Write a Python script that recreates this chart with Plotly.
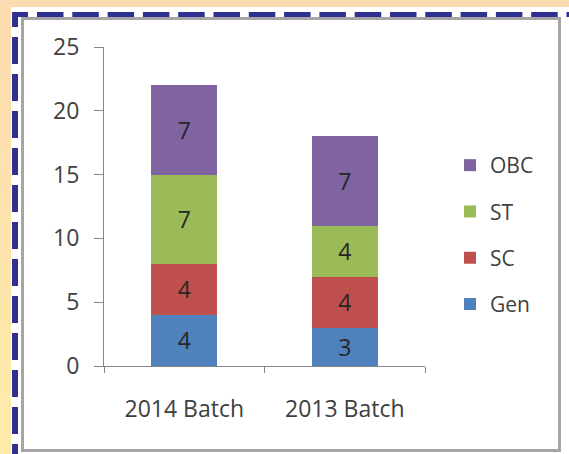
import plotly.graph_objects as go

categories = ["2014 Batch", "2013 Batch"]
series_names = ["Gen", "SC", "ST", "OBC"]
gen = [4, 3]
sc = [4, 4]
st = [7, 4]
obc = [7, 7]
y_ticks = [0, 5, 10, 15, 20, 25]

colors = {"Gen": "#4F81BD", "SC": "#C0504D", "ST": "#9BBB59", "OBC": "#8064A2"}
values = {"Gen": gen, "SC": sc, "ST": st, "OBC": obc}
legend_rank = {"OBC": 1, "ST": 2, "SC": 3, "Gen": 4}

W, H = 569, 454
L, R, T, B = 104, 144, 47, 88
PW, PH = W - L - R, H - T - B

def px(x):
    return (x - L) / PW

def py(y):
    return (H - B - y) / PH

FONT = "Open Sans"
TXT = "#404040"

fig = go.Figure()
for name in series_names:
    fig.add_trace(go.Bar(
        x=categories, y=values[name], name=name,
        marker=dict(color=colors[name], line=dict(width=0)),
        text=values[name], texttemplate="%{text}",
        textposition="inside", insidetextanchor="middle",
        textfont=dict(family=FONT, size=23, color="#262626"),
        legendgroup=name, legendrank=legend_rank[name], cliponaxis=False,
    ))

shapes = []
# beige background strips (left gradient + top)
top_c = (253, 219, 176)
bot_c = (254, 235, 169)
n = 24
for i in range(n):
    t = i / (n - 1)
    c = tuple(round(top_c[k] + (bot_c[k] - top_c[k]) * t) for k in range(3))
    y0 = i * H / n
    y1 = (i + 1) * H / n + 0.5
    shapes.append(dict(type="rect", xref="paper", yref="paper",
                       x0=px(0), x1=px(11), y0=py(y0), y1=py(y1),
                       fillcolor="rgb(%d,%d,%d)" % c, line=dict(width=0), layer="below"))
shapes.append(dict(type="rect", xref="paper", yref="paper",
                   x0=px(0), x1=px(W + 5), y0=py(0), y1=py(7),
                   fillcolor="rgb(253,219,176)", line=dict(width=0), layer="below"))
# dashed blue border (top and left)
shapes.append(dict(type="line", xref="paper", yref="paper",
                   x0=px(12), x1=px(W + 40), y0=py(14.5), y1=py(14.5),
                   line=dict(color="#2E3192", width=5,
                             dash="16px,9px," + ",".join(["26.5px,8.8px"] * 18)),
                   layer="below"))
shapes.append(dict(type="line", xref="paper", yref="paper",
                   x0=px(15), x1=px(15), y0=py(12), y1=py(H + 40),
                   line=dict(color="#2E3192", width=6,
                             dash="15px,10px," + ",".join(["27px,10px"] * 14)),
                   layer="below"))
# gray chart frame
shapes.append(dict(type="rect", xref="paper", yref="paper",
                   x0=px(22.5), x1=px(559.5), y0=py(18.5), y1=py(450.5),
                   line=dict(color="#A5A5A5", width=3), fillcolor="rgba(0,0,0,0)",
                   layer="below"))

fig.update_layout(
    width=W, height=H,
    margin=dict(l=L, r=R, t=T, b=B, pad=0),
    barmode="stack", bargap=0.59,
    paper_bgcolor="white", plot_bgcolor="rgba(0,0,0,0)",
    font=dict(family=FONT, size=23, color=TXT),
    shapes=shapes,
    showlegend=True,
    legend=dict(
        x=px(450), y=py(145), xanchor="left", yanchor="top",
        traceorder="grouped", tracegroupgap=16,
        font=dict(family=FONT, size=21, color=TXT),
        bgcolor="rgba(0,0,0,0)", borderwidth=0,
    ),
    xaxis=dict(
        type="category", showgrid=False, zeroline=False,
        showline=True, linecolor="#868686", linewidth=1,
        ticks="outside", tickson="boundaries", ticklen=6, tickcolor="#868686",
        ticklabelstandoff=22,
    ),
    yaxis=dict(
        range=[0, 25], tickvals=y_ticks, showgrid=False, zeroline=False,
        showline=True, linecolor="#868686", linewidth=1,
        ticks="outside", ticklen=9, tickcolor="#868686",
        ticklabelstandoff=10,
    ),
)

fig.write_html("out.html", config={"displayModeBar": False},
               post_script="document.body.style.margin='0';document.body.style.overflow='hidden';")
